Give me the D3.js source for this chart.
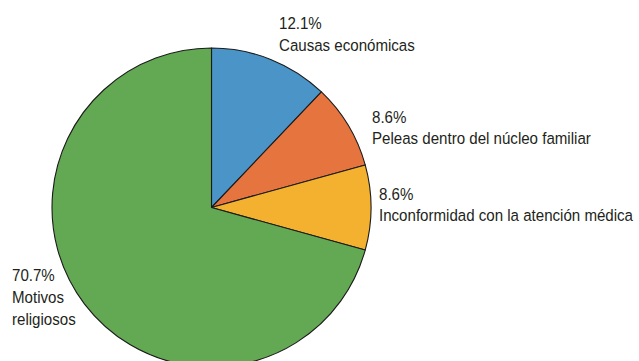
<!DOCTYPE html>
<html>
<head>
<meta charset="utf-8">
<script src="https://cdn.jsdelivr.net/npm/d3@7"></script>
<style>
  html, body { margin: 0; padding: 0; background: #fff; }
  svg { display: block; }
  text { font-family: "Liberation Sans", Arial, sans-serif; fill: #231f20; }
</style>
</head>
<body>
<svg id="chart" width="639" height="361"></svg>
<script>
// Motivos de rechazo, porcentaje por categoría
const categories = [
  "Causas económicas",
  "Peleas dentro del núcleo familiar",
  "Inconformidad con la atención médica",
  "Motivos religiosos"
];
const values = [12.1, 8.6, 8.6, 70.7];
const colors = ["#4a94c8", "#e5743e", "#f3b12f", "#63a852"];

const width = 639, height = 361;
const cx = 211.5, cy = 207.5, radius = 159.5;

const svg = d3.select("#chart");
const g = svg.append("g").attr("transform", `translate(${cx},${cy})`);

const pie = d3.pie().sort(null).value(d => d.value);
const arc = d3.arc().innerRadius(0).outerRadius(radius);

const data = categories.map((c, i) => ({ name: c, value: values[i], color: colors[i] }));
const arcs = pie(data);

g.selectAll("path")
  .data(arcs)
  .join("path")
  .attr("d", arc)
  .attr("fill", d => d.data.color)
  .attr("stroke", "#1a1a1a")
  .attr("stroke-width", 1.1)
  .attr("stroke-linejoin", "round");

// Label blocks: percentage on the first line, category name below.
// Text is drawn slightly condensed horizontally.
const fmt = v => d3.format(".1f")(v) + "%";
const labelPos = [
  { x: 279, y: 29, lines: [fmt(values[0]), categories[0]] },
  { x: 372, y: 122.5, lines: [fmt(values[1]), categories[1]] },
  { x: 379, y: 199.5, lines: [fmt(values[2]), categories[2]] },
  { x: 12, y: 281, lines: [fmt(values[3]), "Motivos", "religiosos"] }
];
const lineH = 21.8;
const condense = 0.915;

const labels = svg.append("g");
labelPos.forEach(p => {
  const t = labels.append("text")
    .attr("transform", `translate(${p.x},${p.y}) scale(${condense},1)`)
    .attr("font-size", 16.5);
  p.lines.forEach((ln, i) => {
    t.append("tspan").attr("x", 0).attr("dy", i === 0 ? 0 : lineH).text(ln);
  });
});
</script>
</body>
</html>
